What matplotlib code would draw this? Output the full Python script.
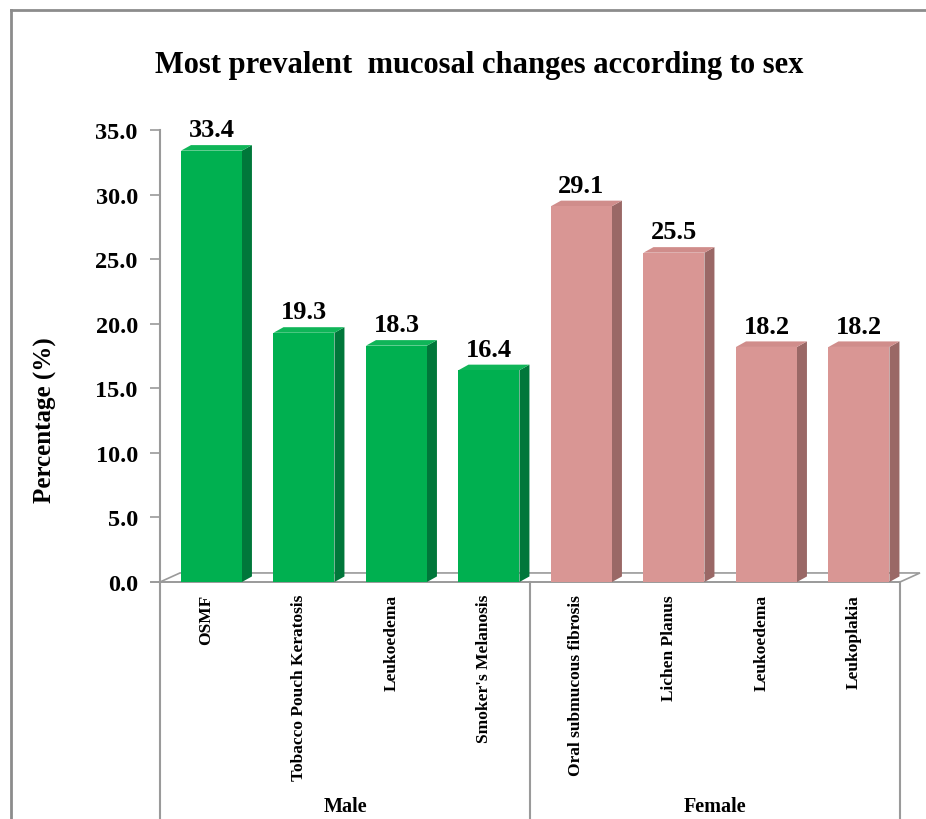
import matplotlib.pyplot as plt
from matplotlib.patches import Polygon, Rectangle
from matplotlib.lines import Line2D
import matplotlib.transforms as mtransforms

plt.rcParams['font.family'] = ['Liberation Serif', 'DejaVu Serif']
plt.rcParams['font.weight'] = 'bold'

# data
groups = ['Male', 'Female']
male_labels = ['OSMF', 'Tobacco Pouch Keratosis', 'Leukoedema', "Smoker's Melanosis"]
male_values = [33.4, 19.3, 18.3, 16.4]
female_labels = ['Oral submucous fibrosis', 'Lichen Planus', 'Leukoedema', 'Leukoplakia']
female_values = [29.1, 25.5, 18.2, 18.2]
yticks = [0, 5, 10, 15, 20, 25, 30, 35]

labels = male_labels + female_labels
values = male_values + female_values
front_colors = ['#00b050'] * 4 + ['#d99694'] * 4
side_colors = ['#00773a'] * 4 + ['#9a6866'] * 4
top_colors = ['#0fb558'] * 4 + ['#d08d8b'] * 4

W, H = 926, 820
fig = plt.figure(figsize=(W / 100, H / 100), dpi=100)
ax = fig.add_axes([160 / W, (H - 583) / H, 740 / W, 452 / H])
ax.set_xlim(0, len(labels))
ax.set_ylim(0, 35)

grey = '#9a9a9a'

# 3d offsets (data units)
bx0, bx1 = 0.227, 0.886
dx, dy = 0.108, 0.43
fx, fy = 0.216, 0.70

# floor
n = len(labels)
ax.add_patch(Polygon([(0, 0), (n, 0), (n + fx, fy), (fx, fy)], closed=True,
                     facecolor='white', edgecolor=grey, lw=1.2, clip_on=False, zorder=1))

for i, (v, fc, sc, tc) in enumerate(zip(values, front_colors, side_colors, top_colors)):
    l, r = i + bx0, i + bx1
    ax.add_patch(Polygon([(r, 0), (r + dx, dy), (r + dx, v + dy), (r, v)], closed=True,
                         facecolor=sc, edgecolor='none', clip_on=False, zorder=3))
    ax.add_patch(Polygon([(l, v), (r, v), (r + dx, v + dy), (l + dx, v + dy)], closed=True,
                         facecolor=tc, edgecolor='none', clip_on=False, zorder=3))
    ax.add_patch(Rectangle((l, 0), r - l, v, facecolor=fc, edgecolor='none',
                           clip_on=False, zorder=4))
    ax.text((l + r) / 2, v + dy + 0.3, f'{v:.1f}', ha='center', va='bottom',
            fontsize=19, fontweight='bold', zorder=5)

# axes styling
for s in ['top', 'right', 'bottom']:
    ax.spines[s].set_visible(False)
ax.spines['left'].set_color(grey)
ax.spines['left'].set_linewidth(1.5)
ax.set_yticks(yticks)
ax.set_yticklabels([f'{t:.1f}' for t in yticks], fontsize=17.5, fontweight='bold')
ax.tick_params(axis='y', direction='out', length=7, width=1.2, color=grey, pad=9)
ax.set_xticks([])
ax.axhline(0, xmin=-0.012, xmax=1, color=grey, lw=1.2, clip_on=False, zorder=2)
ax.set_ylabel('Percentage (%)', fontsize=18, fontweight='bold')
ax.yaxis.set_label_coords(-0.139, 0.36)

# category area
trans = mtransforms.blended_transform_factory(ax.transData, fig.transFigure)
y_top = (H - 583) / H
for xv in [0, 4, 8]:
    ax.add_line(Line2D([xv, xv], [0, y_top], transform=trans, color=grey, lw=1.5,
                       clip_on=False))
for i, lab in enumerate(labels):
    ax.text(i + 0.5, (H - 595) / H, lab, transform=trans, rotation=90, ha='center',
            va='top', fontsize=12.5, fontweight='bold')
for g, xc in zip(groups, [2, 6]):
    ax.text(xc, (H - 807) / H, g, transform=trans, ha='center', va='center',
            fontsize=14.5, fontweight='bold')

# title
fig.text(479 / W, (H - 65) / H, 'Most prevalent  mucosal changes according to sex',
         ha='center', va='center', fontsize=22, fontweight='bold')

# outer frame (left and top)
fig.add_artist(Line2D([11 / W, 11 / W], [0, (H - 11) / H], transform=fig.transFigure,
                      color='#8c8c8c', lw=2))
fig.add_artist(Line2D([11 / W, 1], [(H - 11) / H, (H - 11) / H], transform=fig.transFigure,
                      color='#8c8c8c', lw=2))

fig.savefig('out.png', dpi=100, facecolor='white')
